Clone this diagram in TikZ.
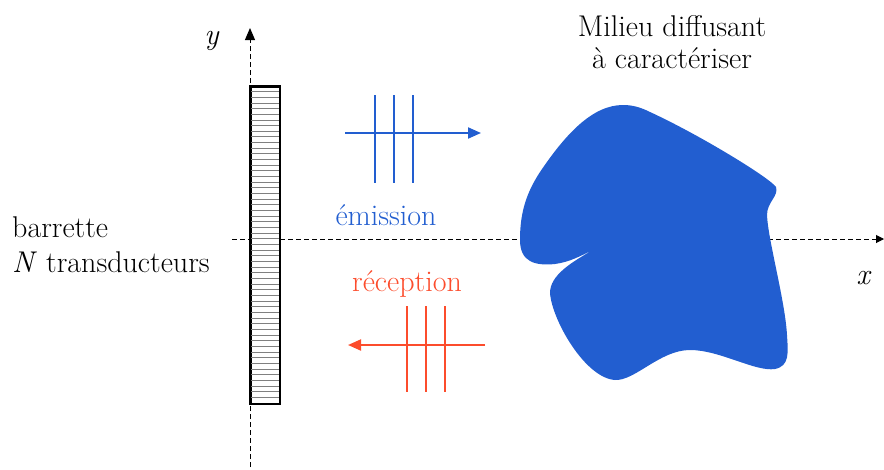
\documentclass[tikz,border=0pt]{standalone}
\usetikzlibrary{arrows.meta}
\definecolor{bleu}{RGB}{34,94,208}
\definecolor{rouge}{RGB}{252,76,44}
\begin{document}
\begin{tikzpicture}[x=1pt,y=-1pt,
  lbl/.style={font=\rmfamily\fontsize{30}{33}\selectfont, inner sep=0pt, anchor=base},
  axis/.style={dash pattern=on 5pt off 3pt, line width=1pt},
  wave/.style={line width=2pt},
  tick/.style={line width=2pt}]
\useasboundingbox (0,0) rectangle (884,469);
% axes
\coordinate (ybot) at (250,467);
\coordinate (ytop) at (250,28);
\draw[axis,-{Triangle[length=12pt,width=10pt]}] (ybot) -- (ytop);
\coordinate (xl) at (232,239);
\coordinate (xr) at (884,239);
\draw[axis,-{Triangle[length=8pt,width=8pt]}] (xl) -- (xr);
% barrette
\node[draw, fill=white, line width=1.5pt, minimum width=29pt, minimum height=317pt,
      inner sep=0pt, anchor=north west] (bar) at (250,86) {};
\foreach \k in {1,...,55}
  \draw[gray, line width=0.9pt] (bar.north west) ++(0,{\k*5.66}) -- ++(29,0);
\draw[line width=1.5pt] (bar.north west) rectangle (bar.south east);
% emission
\coordinate (e1) at (345,133);
\coordinate (e2) at (481,133);
\draw[bleu, wave, -{Triangle[length=13pt,width=11pt]}] (e1) -- (e2);
\foreach \x in {375,394,413}
  \draw[bleu, tick] (\x,95) -- (\x,183);
% reception
\coordinate (r1) at (485,345);
\coordinate (r2) at (348,345);
\draw[rouge, wave, -{Triangle[length=13pt,width=11pt]}] (r1) -- (r2);
\foreach \x in {407,426,445}
  \draw[rouge, tick] (\x,306) -- (\x,392);
% medium
\fill[bleu] (623,105)
  .. controls (592,105) and (565,135) .. (540,172)
  .. controls (525,195) and (520,215) .. (520,240)
  .. controls (520,262) and (535,266) .. (555,264)
  .. controls (570,262) and (580,256) .. (593,250)
  .. controls (572,262) and (550,275) .. (550,293)
  .. controls (552,320) and (585,378) .. (615,380)
  .. controls (635,381) and (660,350) .. (690,350)
  .. controls (720,350) and (755,372) .. (775,369)
  .. controls (790,366) and (788,352) .. (787,335)
  .. controls (785,300) and (768,240) .. (767,215)
  .. controls (767,202) and (779,196) .. (776,187)
  .. controls (770,178) and (700,135) .. (650,112)
  .. controls (640,107) and (632,105) .. (623,105) -- cycle;
% labels
\node[lbl] (em) at (386,225) {\textcolor{bleu}{émission}};
\node[lbl] (rec) at (407,291) {\textcolor{rouge}{réception}};
\node[lbl] (mil1) at (672,36) {Milieu diffusant};
\node[lbl] (mil2) at (672,68) {à caractériser};
\node[lbl, anchor=base west] (bar1) at (12,237) {barrette};
\node[lbl, anchor=base west] (bar2) at (12,272) {\textit{N} transducteurs};
\node[lbl] (ylab) at (212,44) {\textit{y}};
\node[lbl] (xlab) at (864,284) {\textit{x}};
\end{tikzpicture}
\end{document}
